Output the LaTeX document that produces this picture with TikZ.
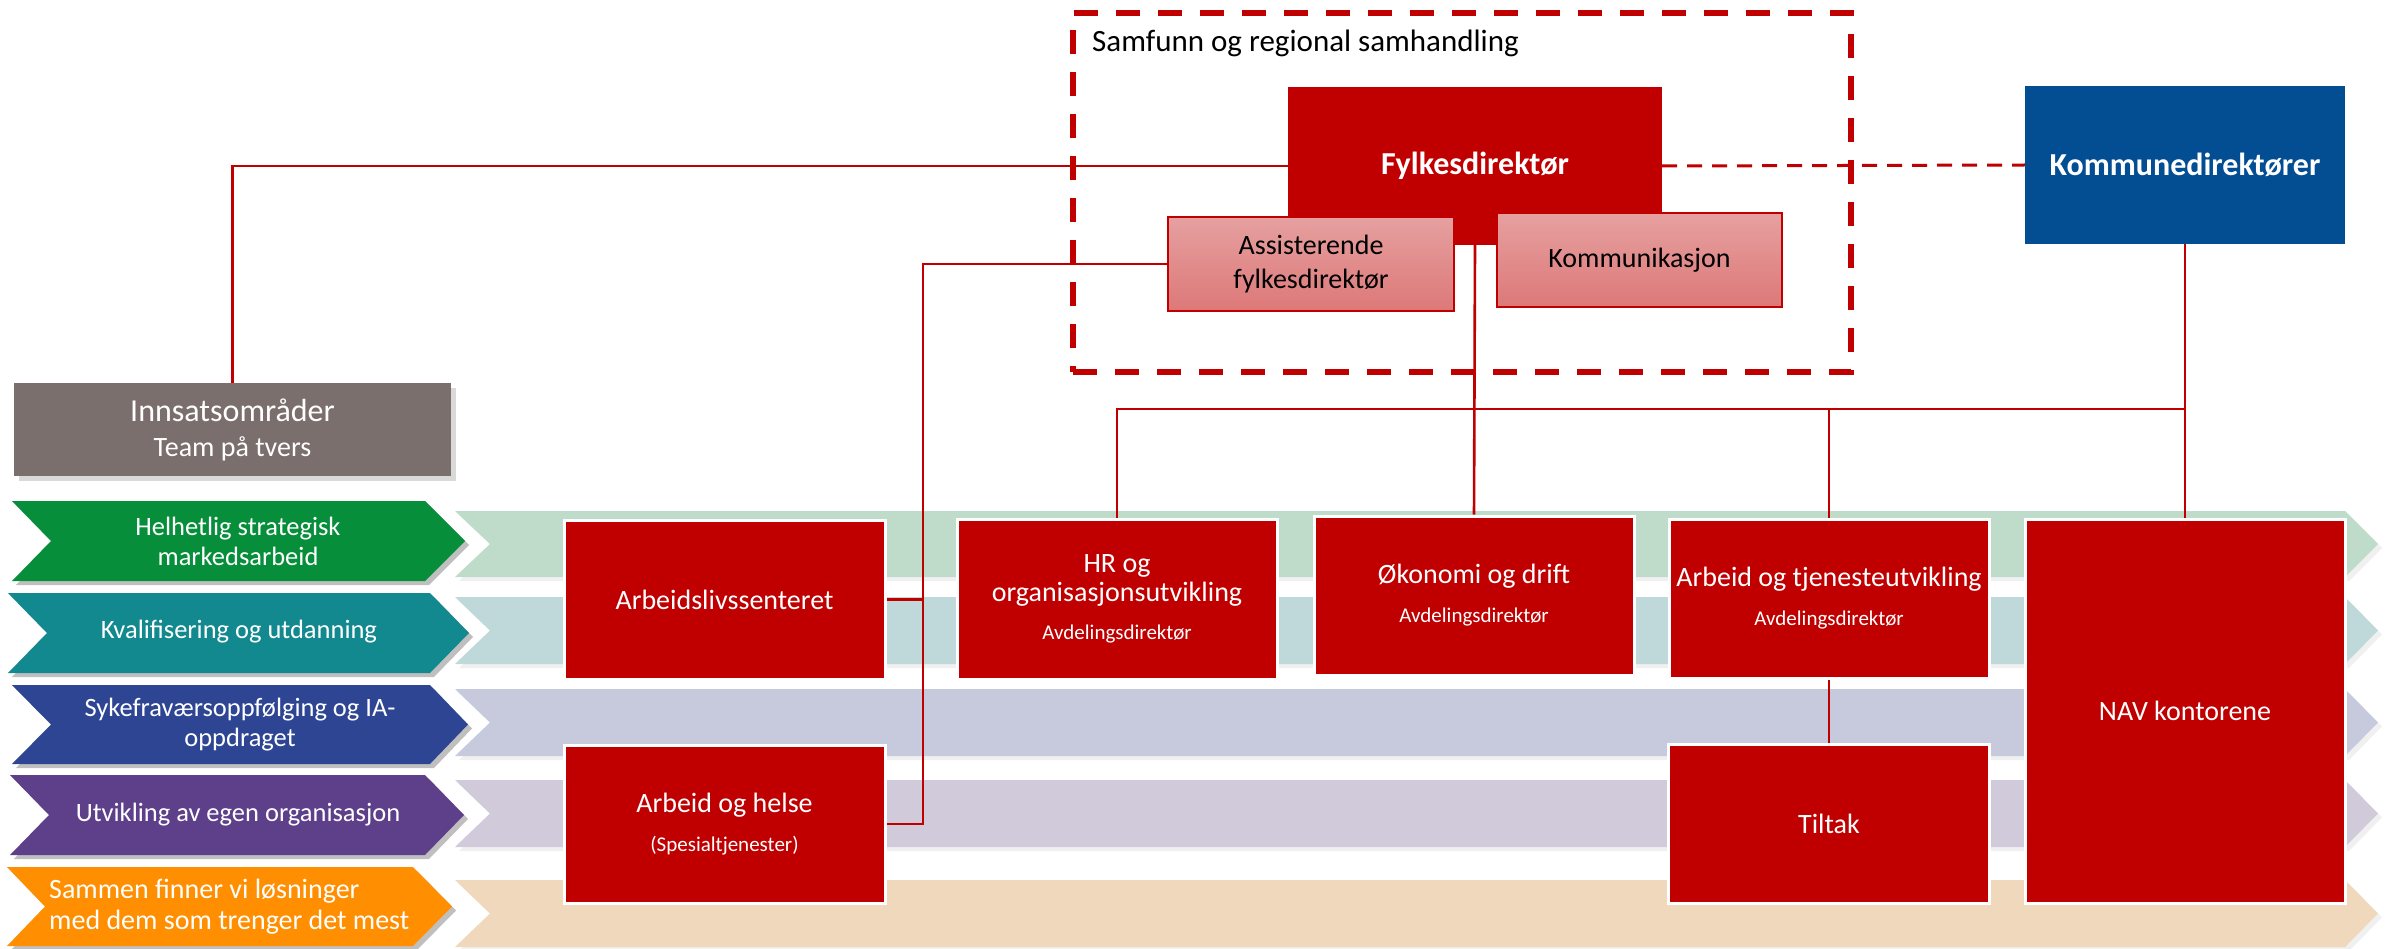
\documentclass[tikz,border=0pt]{standalone}
\usepackage{fontspec}
\setmainfont{Carlito}
\usetikzlibrary{shadows}
\pgfdeclarelayer{bands}
\pgfdeclarelayer{wires}
\pgfsetlayers{bands,wires,main}
\definecolor{navred}{HTML}{C00000}
\definecolor{kblue}{HTML}{034E93}
\definecolor{igrey}{HTML}{7A6F6C}
\definecolor{cgreen}{HTML}{078E3A}
\definecolor{cteal}{HTML}{12898F}
\definecolor{cnavy}{HTML}{2E4594}
\definecolor{cpurple}{HTML}{5E3F8A}
\definecolor{corange}{HTML}{FF8E00}
\definecolor{bgreen}{HTML}{BFDBC9}
\definecolor{bteal}{HTML}{BFD8DA}
\definecolor{bnavy}{HTML}{C6CADC}
\definecolor{bpurple}{HTML}{D0CADB}
\definecolor{borange}{HTML}{EFD8BB}
\definecolor{pinktop}{HTML}{E6A0A0}
\definecolor{pinkbot}{HTML}{DD7878}
% #1 left #2 notch #3 body end #4 tip #5 top #6 middle #7 bottom #8 colour #9 shadow opacity
\newcommand\mychev[9]{%
  \begin{scope}[shift={(4,4)}]
    \fill[black,opacity=#9] (#1,#5) -- (#3,#5) -- (#4,#6) -- (#3,#7) -- (#1,#7) -- (#2,#6) -- cycle;
  \end{scope}
  \fill[#8] (#1,#5) -- (#3,#5) -- (#4,#6) -- (#3,#7) -- (#1,#7) -- (#2,#6) -- cycle;}
\tikzset{
  redbox/.style={fill=navred, draw=white, line width=3pt, text=white, inner sep=0pt,
    align=center, font=\fontsize{28}{34}\selectfont},
  topbox/.style={fill=#1, draw=none, text=white, inner sep=0pt, align=center,
    font=\bfseries\fontsize{32}{36}\selectfont},
  pinkbox/.style={top color=pinktop, bottom color=pinkbot, draw=navred, line width=2pt,
    text=black, inner sep=0pt, align=center, font=\fontsize{28}{34}\selectfont},
  chevtxt/.style={text=white, inner sep=0pt, align=center, font=\fontsize{26.5}{30}\selectfont},
  conn/.style={draw=navred, line width=2.6pt},
  dotline/.style={draw=navred, line width=3pt, dash pattern=on 15pt off 10pt},
  dashbox/.style={draw=navred, line width=6pt, dash pattern=on 24pt off 18pt, inner sep=0pt},
}
\begin{document}
\begin{tikzpicture}[x=1pt,y=-1pt]
\useasboundingbox (0,0) rectangle (2387,949);

\begin{pgfonlayer}{bands}
% background bands
\mychev{455}{490}{2345}{2378}{511}{544}{577}{bgreen}{0.06}
\mychev{455}{490}{2345}{2378}{597}{630.5}{664}{bteal}{0.06}
\mychev{455}{490}{2345}{2378}{689}{722.5}{756}{bnavy}{0.06}
\mychev{455}{490}{2345}{2378}{780}{813.5}{847}{bpurple}{0.06}
\mychev{455}{490}{2345}{2378}{880}{913.5}{947}{borange}{0.06}
% left chevrons
\mychev{12}{51}{425}{465}{501}{541}{581}{cgreen}{0.25}
\mychev{8}{47}{430}{469}{593}{633}{673}{cteal}{0.25}
\mychev{12}{51}{430}{468}{685}{724.5}{764}{cnavy}{0.25}
\mychev{10}{49}{425}{464}{775}{815}{855}{cpurple}{0.25}
\mychev{7}{45}{413}{452}{867}{906.5}{946}{corange}{0.25}
\end{pgfonlayer}

\node[chevtxt] (c1) at (238,541) {Helhetlig strategisk\\markedsarbeid};
\node[chevtxt] (c2) at (239,632) {Kvalifisering og utdanning};
\node[chevtxt] (c3) at (240,724.5) {Sykefraværsoppfølging og IA-\\oppdraget};
\node[chevtxt] (c4) at (238,815) {Utvikling av egen organisasjon};
\node[chevtxt, align=left, anchor=west, font=\fontsize{28}{31}\selectfont] (c5) at (49,906.5)
  {Sammen finner vi løsninger\\med dem som trenger det mest};

% Innsatsområder
\node[fill=igrey, text=white, inner sep=0pt, align=center, minimum width=437, minimum height=93,
  drop shadow={shadow xshift=5pt, shadow yshift=-5pt, opacity=0.3},
  font=\fontsize{28}{35}\selectfont] (inns) at (232.5,429.5)
  {{\fontsize{32}{35}\selectfont Innsatsområder}\\Team på tvers};

% unit boxes
\node[redbox, minimum width=321, minimum height=159] (als) at (724.5,599.5) {Arbeidslivssenteret};
\node[redbox, minimum width=321, minimum height=158, font=\fontsize{28}{39}\selectfont] (aoh) at (724.5,824)
  {Arbeid og helse\\{\fontsize{21}{39}\selectfont (Spesialtjenester)}};
\node[redbox, minimum width=320, minimum height=160, font=\fontsize{28}{29}\selectfont] (hr) at (1117,599)
  {HR og\\organisasjonsutvikling\\[9pt]{\fontsize{21}{29}\selectfont Avdelingsdirektør}};
\node[redbox, minimum width=320, minimum height=159, font=\fontsize{28}{39}\selectfont] (oko) at (1474,595.5)
  {Økonomi og drift\\{\fontsize{21}{39}\selectfont Avdelingsdirektør}};
\node[redbox, minimum width=320, minimum height=159, font=\fontsize{28}{39}\selectfont] (aot) at (1829,598.5)
  {Arbeid og tjenesteutvikling\\{\fontsize{21}{39}\selectfont Avdelingsdirektør}};
\node[redbox, minimum width=321, minimum height=159] (tiltak) at (1829,823.5) {Tiltak};
\node[redbox, minimum width=320, minimum height=384] (nav) at (2185,711) {NAV kontorene};

% top level
\node[topbox=navred, minimum width=374, minimum height=158] (fylke) at (1475,166) {Fylkesdirektør};
\node[topbox=kblue, minimum width=320, minimum height=158] (kommune) at (2185,165) {Kommunedirektører};
\node[pinkbox, minimum width=286, minimum height=94] (ass) at (1311,264) {Assisterende\\fylkesdirektør};
\node[pinkbox, minimum width=285, minimum height=94] (komm) at (1639.5,260) {Kommunikasjon};

% dashed frame and its title
\node[dashbox, minimum width=778, minimum height=359] (sam) at (1462,192.5) {};
\node[anchor=west, inner sep=0pt, font=\fontsize{31}{36}\selectfont] (samtitle) at (1092,43)
  {Samfunn og regional samhandling};

% connectors, on a layer under the boxes
\coordinate (bus) at (923,0);
\coordinate (hbus) at (0,409);
\begin{pgfonlayer}{wires}
\draw[conn] (fylke.west) -| (inns.north);
\draw[conn] (ass.west) -| (bus |- aoh.east) -- (aoh.east);
\draw[conn] (als.east) -- (bus |- als.east);
\draw[conn] (fylke.south) -- (oko.north);
\draw[conn] (hr.north) |- (hbus -| kommune.south);
\draw[conn] (aot.north) -- (aot.north |- hbus);
\draw[conn] (kommune.south) -- (nav.north);
\draw[conn] (aot.south) -- (tiltak.north);
\draw[dotline] (fylke.east) -- (kommune.west);
\end{pgfonlayer}
\end{tikzpicture}
\end{document}
